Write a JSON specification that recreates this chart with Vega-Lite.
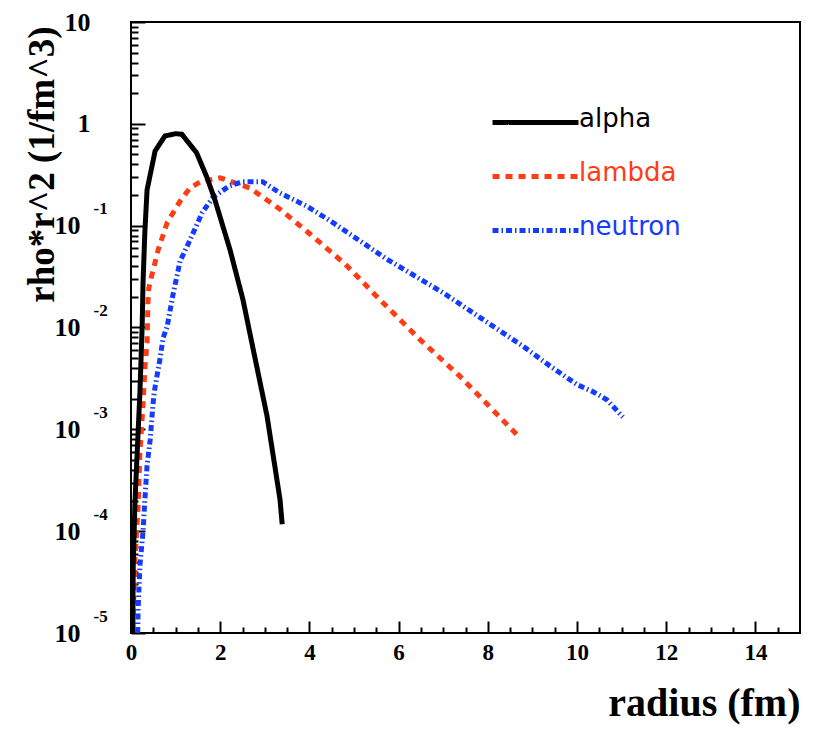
{
  "$schema": "https://vega.github.io/schema/vega-lite/v6.json",
  "width": 669,
  "height": 611,
  "autosize": {"type": "none"},
  "padding": {"left": 131, "top": 22, "right": 15, "bottom": 97},
  "background": "white",
  "config": {
    "view": {"stroke": "black", "strokeWidth": 2},
    "axis": {"grid": false, "domain": false, "tickColor": "black", "tickWidth": 2, "labelColor": "black", "titleColor": "black"}
  },
  "data": {
    "values": [
      {"series": "alpha", "r": 0.04, "rho": 1e-5},
      {"series": "alpha", "r": 0.05, "rho": 4.6e-5},
      {"series": "alpha", "r": 0.09, "rho": 2.0e-4},
      {"series": "alpha", "r": 0.2, "rho": 2.3e-3},
      {"series": "alpha", "r": 0.25, "rho": 0.0102},
      {"series": "alpha", "r": 0.27, "rho": 0.0275},
      {"series": "alpha", "r": 0.31, "rho": 0.085},
      {"series": "alpha", "r": 0.36, "rho": 0.224},
      {"series": "alpha", "r": 0.54, "rho": 0.54},
      {"series": "alpha", "r": 0.76, "rho": 0.76},
      {"series": "alpha", "r": 1.0, "rho": 0.8},
      {"series": "alpha", "r": 1.14, "rho": 0.79},
      {"series": "alpha", "r": 1.47, "rho": 0.52},
      {"series": "alpha", "r": 1.7, "rho": 0.3},
      {"series": "alpha", "r": 1.88, "rho": 0.18},
      {"series": "alpha", "r": 2.22, "rho": 0.058},
      {"series": "alpha", "r": 2.51, "rho": 0.0188},
      {"series": "alpha", "r": 2.74, "rho": 0.0061},
      {"series": "alpha", "r": 3.05, "rho": 0.00135},
      {"series": "alpha", "r": 3.34, "rho": 2.06e-4},
      {"series": "alpha", "r": 3.39, "rho": 1.17e-4},
      {"series": "lambda", "r": 0.04, "rho": 1.1e-5},
      {"series": "lambda", "r": 0.09, "rho": 5.4e-5},
      {"series": "lambda", "r": 0.16, "rho": 1.78e-4},
      {"series": "lambda", "r": 0.2, "rho": 5.9e-4},
      {"series": "lambda", "r": 0.27, "rho": 1.78e-3},
      {"series": "lambda", "r": 0.31, "rho": 3.9e-3},
      {"series": "lambda", "r": 0.36, "rho": 7.1e-3},
      {"series": "lambda", "r": 0.38, "rho": 0.0178},
      {"series": "lambda", "r": 0.4, "rho": 0.0245},
      {"series": "lambda", "r": 0.47, "rho": 0.033},
      {"series": "lambda", "r": 0.54, "rho": 0.0437},
      {"series": "lambda", "r": 0.61, "rho": 0.058},
      {"series": "lambda", "r": 0.81, "rho": 0.107},
      {"series": "lambda", "r": 1.1, "rho": 0.174},
      {"series": "lambda", "r": 1.32, "rho": 0.234},
      {"series": "lambda", "r": 1.55, "rho": 0.269},
      {"series": "lambda", "r": 2.0, "rho": 0.295},
      {"series": "lambda", "r": 2.67, "rho": 0.234},
      {"series": "lambda", "r": 3.34, "rho": 0.145},
      {"series": "lambda", "r": 4.04, "rho": 0.081},
      {"series": "lambda", "r": 4.8, "rho": 0.042},
      {"series": "lambda", "r": 5.58, "rho": 0.0188},
      {"series": "lambda", "r": 6.48, "rho": 0.0076},
      {"series": "lambda", "r": 7.38, "rho": 0.0033},
      {"series": "lambda", "r": 8.65, "rho": 8.9e-4},
      {"series": "lambda", "r": 8.7, "rho": 8.5e-4},
      {"series": "neutron", "r": 0.15, "rho": 1e-5},
      {"series": "neutron", "r": 0.16, "rho": 1.74e-5},
      {"series": "neutron", "r": 0.2, "rho": 4.6e-5},
      {"series": "neutron", "r": 0.27, "rho": 1e-4},
      {"series": "neutron", "r": 0.31, "rho": 2.0e-4},
      {"series": "neutron", "r": 0.36, "rho": 4.4e-4},
      {"series": "neutron", "r": 0.43, "rho": 7.9e-4},
      {"series": "neutron", "r": 0.49, "rho": 1.7e-3},
      {"series": "neutron", "r": 0.52, "rho": 2.3e-3},
      {"series": "neutron", "r": 0.58, "rho": 3.3e-3},
      {"series": "neutron", "r": 0.65, "rho": 4.9e-3},
      {"series": "neutron", "r": 0.72, "rho": 7.9e-3},
      {"series": "neutron", "r": 0.81, "rho": 0.0102},
      {"series": "neutron", "r": 0.94, "rho": 0.0209},
      {"series": "neutron", "r": 1.1, "rho": 0.0447},
      {"series": "neutron", "r": 1.26, "rho": 0.063},
      {"series": "neutron", "r": 1.43, "rho": 0.092},
      {"series": "neutron", "r": 1.6, "rho": 0.135},
      {"series": "neutron", "r": 1.84, "rho": 0.19},
      {"series": "neutron", "r": 2.2, "rho": 0.245},
      {"series": "neutron", "r": 2.5, "rho": 0.27},
      {"series": "neutron", "r": 2.95, "rho": 0.27},
      {"series": "neutron", "r": 3.34, "rho": 0.209},
      {"series": "neutron", "r": 3.95, "rho": 0.155},
      {"series": "neutron", "r": 4.53, "rho": 0.107},
      {"series": "neutron", "r": 5.74, "rho": 0.0468},
      {"series": "neutron", "r": 7.0, "rho": 0.0219},
      {"series": "neutron", "r": 8.8, "rho": 0.0065},
      {"series": "neutron", "r": 9.39, "rho": 0.0042},
      {"series": "neutron", "r": 10.0, "rho": 0.00275},
      {"series": "neutron", "r": 10.36, "rho": 0.00234},
      {"series": "neutron", "r": 10.67, "rho": 0.00195},
      {"series": "neutron", "r": 11.03, "rho": 0.00132}
    ]
  },
  "encoding": {
    "x": {
      "field": "r", "type": "quantitative",
      "scale": {"domain": [0, 15], "nice": false, "zero": false},
      "axis": {
        "values": [0,0.5,1,1.5,2,2.5,3,3.5,4,4.5,5,5.5,6,6.5,7,7.5,8,8.5,9,9.5,10,10.5,11,11.5,12,12.5,13,13.5,14,14.5],
        "labelExpr": "datum.value % 2 == 0 ? format(datum.value, 'd') : ''",
        "tickSize": {"condition": {"test": "datum.value % 2 == 0", "value": -12}, "value": -6},
        "labelFont": "Liberation Serif", "labelFontWeight": "bold", "labelFontSize": 23,
        "labelPadding": 20, "labelOverlap": false, "labelFlush": false, "labelBound": false,
        "title": "radius (fm)", "titleFont": "Liberation Serif", "titleFontWeight": "bold", "titleFontSize": 40,
        "titleAnchor": "end", "titleAlign": "right", "titleBaseline": "alphabetic", "titleX": 669, "titleY": 82
      }
    },
    "color": {
      "field": "series", "type": "nominal",
      "scale": {"domain": ["alpha", "lambda", "neutron"], "range": ["#000000", "#ff3c14", "#143cff"]},
      "legend": {
        "orient": "none", "legendX": 391, "legendY": 87, "title": null, "padding": 0,
        "symbolType": "M-4,0H4", "symbolSize": 462, "symbolStrokeWidth": 5,
        "labelFont": "DejaVu Sans", "labelFontSize": 26, "labelOffset": 30, "labelBaseline": "alphabetic",
        "rowPadding": 26,
        "encode": {"labels": {"update": {"fill": {"scale": "color", "field": "value"}, "dy": {"value": 4}}}}
      }
    },
    "strokeDash": {
      "field": "series", "type": "nominal",
      "scale": {"domain": ["alpha", "lambda", "neutron"], "range": [[1, 0], [7, 6], [6, 3, 1.5, 3]]}
    }
  },
  "layer": [
    {
      "transform": [{"filter": "datum.series != 'alpha'"}],
      "mark": {"type": "line", "strokeWidth": 5, "clip": true, "strokeCap": "butt"},
      "encoding": {
        "y": {
          "field": "rho", "type": "quantitative",
          "scale": {"type": "log", "domain": [1e-5, 10], "nice": false},
          "axis": {
            "values": [1e-5,2e-5,3e-5,4e-5,5e-5,6e-5,7e-5,8e-5,9e-5,1e-4,2e-4,3e-4,4e-4,5e-4,6e-4,7e-4,8e-4,9e-4,1e-3,2e-3,3e-3,4e-3,5e-3,6e-3,7e-3,8e-3,9e-3,0.01,0.02,0.03,0.04,0.05,0.06,0.07,0.08,0.09,0.1,0.2,0.3,0.4,0.5,0.6,0.7,0.8,0.9,1,2,3,4,5,6,7,8,9,10],
            "labelExpr": "abs(log(datum.value)/LN10 - round(log(datum.value)/LN10)) < 0.001 ? (abs(datum.value - 1) < 1e-9 ? '1' : '10') : ''",
            "tickSize": {"condition": {"test": "abs(log(datum.value)/LN10 - round(log(datum.value)/LN10)) < 0.001", "value": -14}, "value": -7},
            "labelPadding": {"condition": {"test": "datum.value >= 0.999", "value": 55}, "value": 65},
            "labelFont": "Liberation Serif", "labelFontWeight": "bold", "labelFontSize": 26,
            "labelBaseline": "middle", "labelAlign": "right",
            "labelOverlap": false, "labelFlush": false, "labelBound": false,
            "title": "rho*r^2 (1/fm^3)", "titleFont": "Liberation Serif", "titleFontWeight": "bold", "titleFontSize": 37,
            "titleAngle": -90, "titleAlign": "right", "titleBaseline": "alphabetic", "titleX": -78, "titleY": 4
          }
        }
      }
    },
    {
      "transform": [{"filter": "datum.series == 'alpha'"}],
      "mark": {"type": "line", "strokeWidth": 5, "clip": true},
      "encoding": {
        "y": {
          "field": "rho", "type": "quantitative",
          "scale": {"type": "log", "domain": [1e-5, 10], "nice": false},
          "axis": {
            "orient": "left",
            "values": [1e-5, 1e-4, 1e-3, 0.01, 0.1],
            "labelExpr": "'' + round(log(datum.value)/LN10)",
            "ticks": false, "domain": false,
            "labelPadding": 38, "labelOffset": -17, "labelAlign": "left", "labelBaseline": "middle",
            "labelFont": "Liberation Serif", "labelFontWeight": "bold", "labelFontSize": 17,
            "labelOverlap": false, "labelFlush": false, "labelBound": false,
            "title": null
          }
        }
      }
    }
  ],
  "resolve": {"axis": {"y": "independent"}}
}
